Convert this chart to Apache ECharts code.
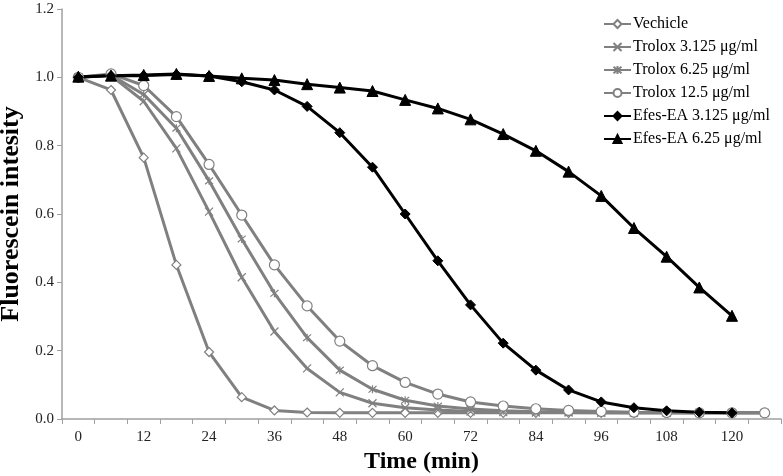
<!DOCTYPE html>
<html>
<head>
<meta charset="utf-8">
<script src="https://cdn.jsdelivr.net/npm/echarts@6/dist/echarts.min.js"></script>
<style>
html,body{margin:0;padding:0;background:#fff;}
#chart{width:783px;height:476px;}
</style>
</head>
<body>
<div id="chart"></div>
<script>
var timeLabels = ['0','6','12','18','24','30','36','42','48','54','60','66','72','78','84','90','96','102','108','114','120','126'];
var seriesNames = ['Vechicle','Trolox 3.125 μg/ml','Trolox 6.25 μg/ml','Trolox 12.5 μg/ml','Efes-EA 3.125 μg/ml','Efes-EA 6.25 μg/ml'];
var vehicle    = [1.0, 0.963, 0.765, 0.451, 0.196, 0.064, 0.025, 0.019, 0.018, 0.018, 0.018, 0.018, 0.018, 0.018, 0.018, 0.018, 0.018, 0.018, 0.018, 0.018, 0.018, 0.018];
var trolox3125 = [1.0, 1.005, 0.93, 0.792, 0.607, 0.415, 0.256, 0.148, 0.078, 0.046, 0.033, 0.026, 0.022, 0.02, 0.019, 0.019, 0.018, 0.018, 0.018, 0.018, 0.018, 0.018];
var trolox625  = [1.0, 1.007, 0.95, 0.851, 0.697, 0.527, 0.368, 0.238, 0.143, 0.087, 0.055, 0.038, 0.029, 0.024, 0.021, 0.02, 0.019, 0.018, 0.018, 0.018, 0.018, 0.018];
var trolox125  = [1.0, 1.01, 0.976, 0.885, 0.745, 0.597, 0.451, 0.331, 0.228, 0.156, 0.107, 0.073, 0.05, 0.038, 0.03, 0.025, 0.022, 0.02, 0.019, 0.018, 0.018, 0.018];
var efes3125   = [1.0, 1.005, 1.005, 1.008, 1.004, 0.987, 0.963, 0.915, 0.838, 0.737, 0.600, 0.463, 0.334, 0.222, 0.143, 0.085, 0.05, 0.033, 0.024, 0.02, 0.018];
var efes625    = [1.002, 1.005, 1.007, 1.01, 1.004, 0.997, 0.992, 0.98, 0.97, 0.96, 0.934, 0.909, 0.877, 0.834, 0.785, 0.724, 0.653, 0.559, 0.475, 0.385, 0.302];

var GRAY = '#808080';
var FONT = '"Liberation Serif","Times New Roman",serif';
var crossPath = 'path://M0,0L10,10M10,0L0,10';
var starPath = 'path://M0,0L10,10M10,0L0,10M5,-1L5,11';

function graySeries(name, data, symbol, size) {
  return {
    name: name, type: 'line', data: data, symbol: symbol, symbolSize: size,
    showAllSymbol: true,
    lineStyle: {color: GRAY, width: 3},
    itemStyle: {color: symbol.indexOf('path') === 0 ? GRAY : '#fff', borderColor: GRAY, borderWidth: 1.2},
    emphasis: {disabled: true}, animation: false
  };
}
function blackSeries(name, data, symbol, size) {
  return {
    name: name, type: 'line', data: data, symbol: symbol, symbolSize: size,
    showAllSymbol: true,
    lineStyle: {color: '#000', width: 3},
    itemStyle: {color: '#000', borderColor: '#000', borderWidth: 1},
    emphasis: {disabled: true}, animation: false
  };
}

var chart = echarts.init(document.getElementById('chart'), null, {renderer: 'canvas'});
chart.setOption({
  backgroundColor: '#fff',
  animation: false,
  textStyle: {fontFamily: FONT},
  grid: {left: 62, right: 2, top: 9, bottom: 57, containLabel: false, outerBoundsMode: 'none'},
  legend: {
    orient: 'vertical', left: 598, top: 11,
    itemWidth: 27, itemHeight: 10, itemGap: 7,
    textStyle: {fontFamily: FONT, fontSize: 16, color: '#000', padding: [0, 0, 0, -3]},
    data: seriesNames
  },
  xAxis: {
    type: 'category', data: timeLabels, boundaryGap: true,
    name: 'Time (min)', nameLocation: 'middle', nameGap: 29,
    nameTextStyle: {fontFamily: FONT, fontSize: 24, fontWeight: 'bold', color: '#000'},
    axisLine: {lineStyle: {color: '#a0a0a0', width: 1.5}},
    axisTick: {show: true, interval: 0, length: 5, lineStyle: {color: '#a0a0a0'}},
    axisLabel: {interval: 1, fontFamily: FONT, fontSize: 15, color: '#222', margin: 11},
    splitLine: {show: false}
  },
  yAxis: {
    type: 'value', min: 0, max: 1.2, interval: 0.2,
    name: 'Fluorescein intesity', nameLocation: 'middle', nameGap: 38,
    nameTextStyle: {fontFamily: FONT, fontSize: 26, fontWeight: 'bold', color: '#000'},
    axisLine: {show: true, lineStyle: {color: '#a0a0a0', width: 1.5}},
    axisTick: {show: true, length: 5, lineStyle: {color: '#a0a0a0'}},
    axisLabel: {fontFamily: FONT, fontSize: 15, color: '#222', margin: 8,
      formatter: function (v) { return v.toFixed(1); }},
    splitLine: {show: false}
  },
  series: [
    graySeries(seriesNames[0], vehicle, 'diamond', 9),
    graySeries(seriesNames[1], trolox3125, crossPath, 8),
    graySeries(seriesNames[2], trolox625, starPath, 8),
    graySeries(seriesNames[3], trolox125, 'circle', 10),
    blackSeries(seriesNames[4], efes3125, 'diamond', 10),
    blackSeries(seriesNames[5], efes625, 'triangle', 11)
  ]
});
</script>
</body>
</html>
